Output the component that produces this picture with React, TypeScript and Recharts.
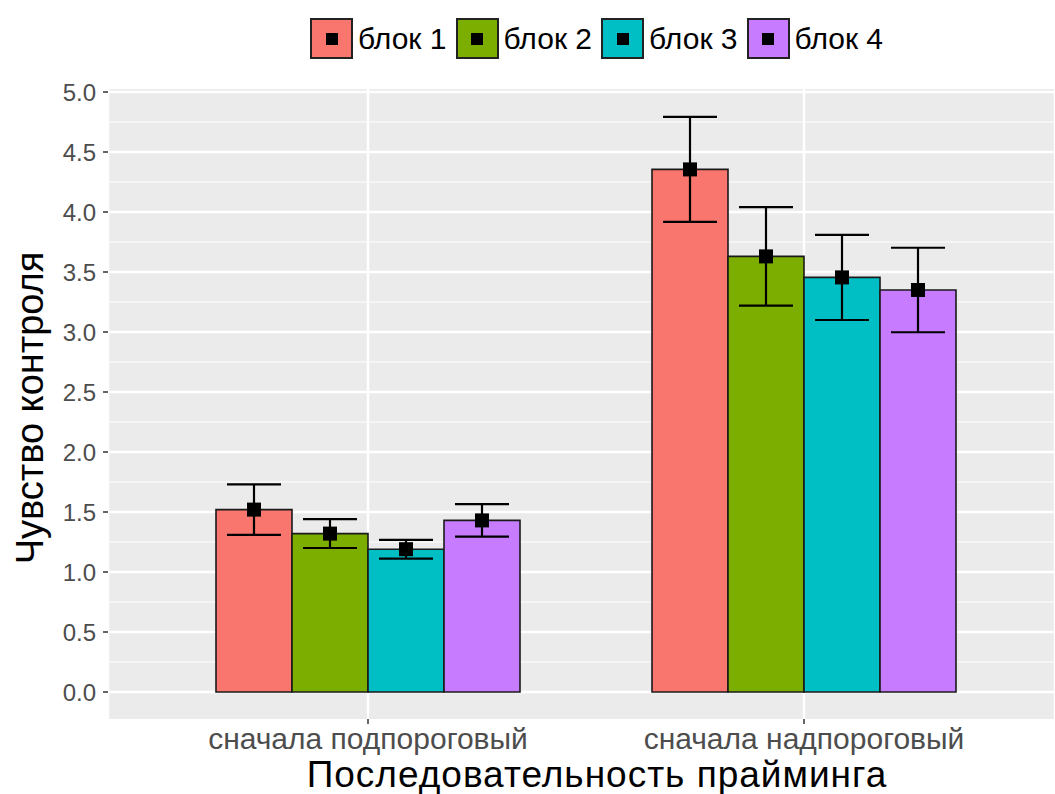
import React from "react";
import {
  BarChart,
  Bar,
  XAxis,
  YAxis,
  CartesianGrid,
  ErrorBar,
  LabelList,
  Label,
} from "recharts";

const FONT = '"Liberation Sans", Arial, Helvetica, sans-serif';

const categories = ["сначала подпороговый", "сначала надпороговый"];
const blocks = ["блок 1", "блок 2", "блок 3", "блок 4"];
const blockColors = ["#F8766D", "#7CAE00", "#00BFC4", "#C77CFF"];

// mean per block, one value per category
const block1Mean = [1.52, 4.355];
const block2Mean = [1.32, 3.63];
const block3Mean = [1.19, 3.455];
const block4Mean = [1.43, 3.35];

// half-width of the error bars
const block1Err = [0.21, 0.437];
const block2Err = [0.12, 0.41];
const block3Err = [0.078, 0.355];
const block4Err = [0.135, 0.352];

const majorTicks = [0, 0.5, 1, 1.5, 2, 2.5, 3, 3.5, 4, 4.5, 5];
const minorTicks = [0.25, 0.75, 1.25, 1.75, 2.25, 2.75, 3.25, 3.75, 4.25, 4.75];

const means = [block1Mean, block2Mean, block3Mean, block4Mean];
const errs = [block1Err, block2Err, block3Err, block4Err];

const data = categories.map((cat, i) => {
  const row: Record<string, string | number> = { cat };
  blocks.forEach((_, b) => {
    row[`m${b}`] = means[b][i];
    row[`e${b}`] = errs[b][i];
  });
  return row;
});

const MeanPoint = (props: any) => {
  const { x, y, width } = props;
  const cx = Number(x) + Number(width) / 2;
  return <rect x={cx - 7} y={Number(y) - 7} width={14} height={14} fill="#000" />;
};

const LegendRow = () => (
  <div
    style={{
      position: "absolute",
      top: 18,
      left: 310,
      display: "flex",
      alignItems: "center",
      fontFamily: FONT,
      fontSize: 30,
      color: "#000",
    }}
  >
    {blocks.map((name, i) => (
      <div key={name} style={{ display: "flex", alignItems: "center", marginRight: 9 }}>
        <div
          style={{
            width: 39,
            height: 37,
            background: blockColors[i],
            border: "2px solid #222",
            display: "flex",
            alignItems: "center",
            justifyContent: "center",
          }}
        >
          <div style={{ width: 12, height: 12, background: "#000" }} />
        </div>
        <span style={{ marginLeft: 5 }}>{name}</span>
      </div>
    ))}
  </div>
);

export default function App() {
  return (
    <div style={{ position: "absolute", left: 0, top: 0, width: 1055, height: 794, background: "#fff" }}>
      <LegendRow />
      <BarChart
        width={1055}
        height={794}
        data={data}
        margin={{ top: 89, right: 0, left: 0, bottom: 0 }}
        barCategoryGap={66}
        barGap={0}
      >
        <CartesianGrid
          fill="#EBEBEB"
          stroke="#FFFFFF"
          strokeWidth={1.2}
          horizontalValues={minorTicks}
          vertical={false}
        />
        <CartesianGrid stroke="#FFFFFF" strokeWidth={2.4} horizontalValues={majorTicks} />
        <XAxis
          dataKey="cat"
          height={75}
          padding={{ left: 42, right: 33 }}
          axisLine={false}
          tickSize={5}
          tickMargin={4}
          tickLine={{ stroke: "#333", strokeWidth: 1.5 }}
          tick={{ fill: "#4D4D4D", fontSize: 30, fontFamily: FONT }}
        >
          <Label
            content={() => (
              <text
                x={597}
                y={787}
                textAnchor="middle"
                fill="#000"
                fontSize={37}
                letterSpacing={1}
                fontFamily={FONT}
              >
                Последовательность прайминга
              </text>
            )}
          />
        </XAxis>
        <YAxis
          type="number"
          domain={[-0.225, 5.025]}
          allowDataOverflow
          ticks={majorTicks}
          width={108}
          axisLine={false}
          tickSize={5}
          tickMargin={7}
          tickLine={{ stroke: "#333", strokeWidth: 1.5 }}
          tickFormatter={(v: number) => v.toFixed(1)}
          tick={{ fill: "#4D4D4D", fontSize: 24, fontFamily: FONT }}
        >
          <Label
            content={() => (
              <text
                x={43}
                y={408}
                transform="rotate(-90 43 408)"
                textAnchor="middle"
                fill="#000"
                fontSize={38}
                fontFamily={FONT}
              >
                Чувство контроля
              </text>
            )}
          />
        </YAxis>
        {blocks.map((name, b) => (
          <Bar
            key={name}
            dataKey={`m${b}`}
            name={name}
            fill={blockColors[b]}
            stroke="#1A1A1A"
            strokeWidth={1.6}
            isAnimationActive={false}
          >
            <ErrorBar dataKey={`e${b}`} width={27} stroke="#000" strokeWidth={2.2} direction="y" />
            <LabelList dataKey={`m${b}`} content={<MeanPoint />} />
          </Bar>
        ))}
      </BarChart>
    </div>
  );
}
